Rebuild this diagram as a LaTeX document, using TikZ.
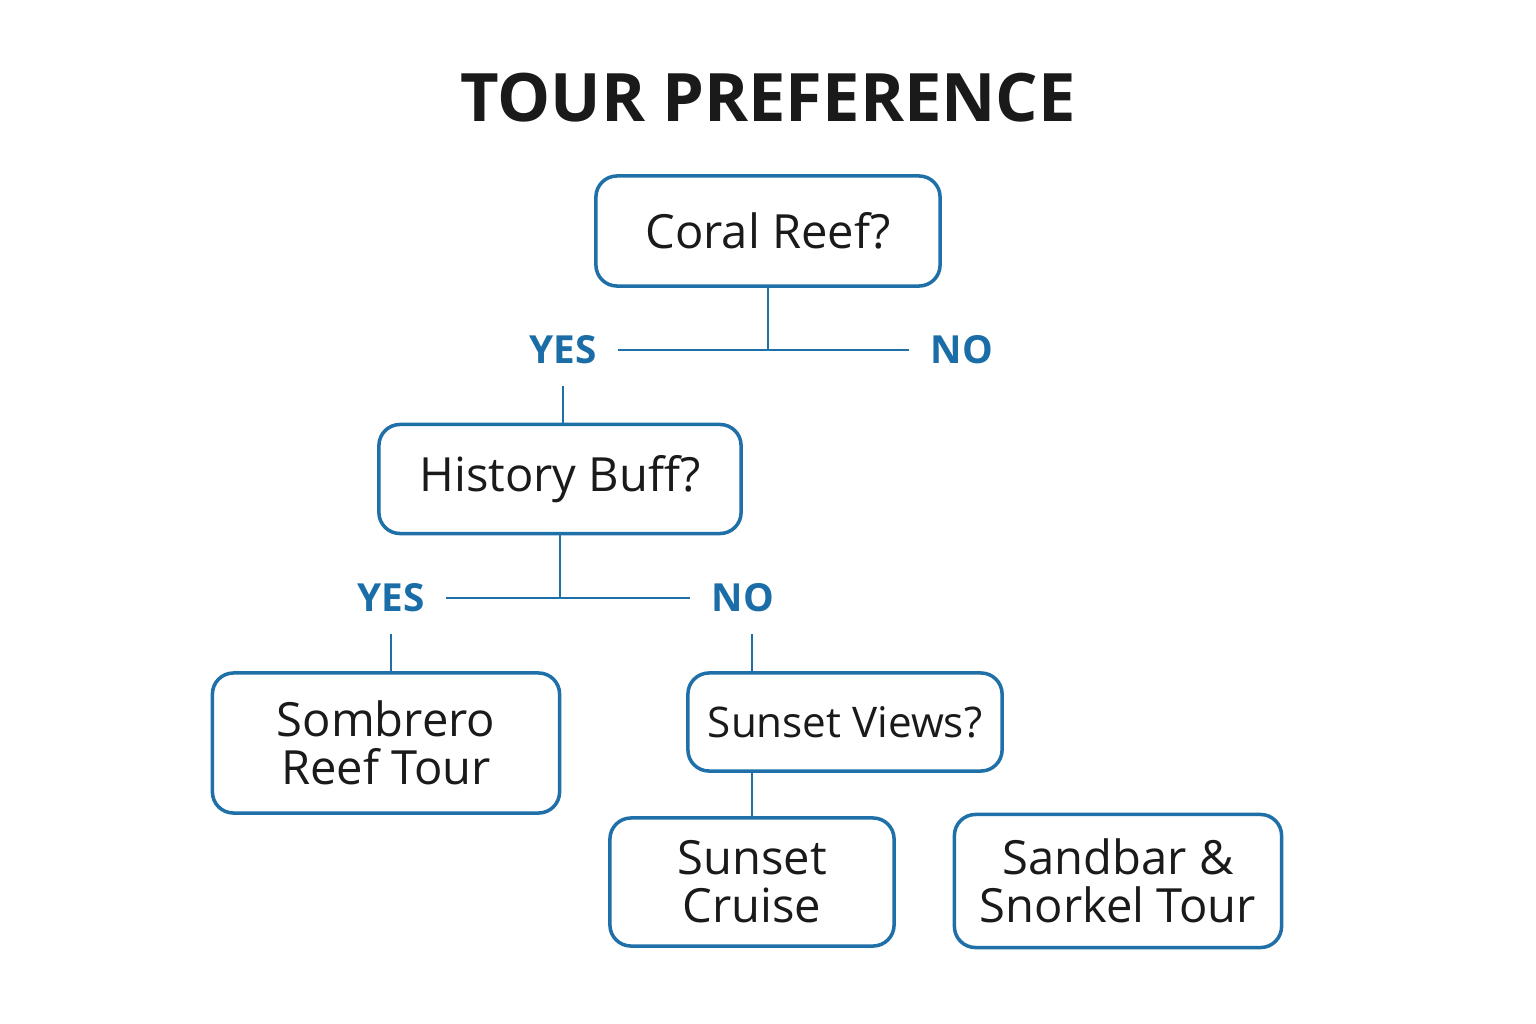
\documentclass[tikz,border=0pt]{standalone}
\usepackage{fontspec}
\setmainfont{Open Sans}
\usetikzlibrary{positioning}
\definecolor{treeblue}{HTML}{1F6FA8}
\definecolor{labelblue}{HTML}{1A6DA6}
\definecolor{inkdark}{HTML}{1A1A1A}
\begin{document}
\begin{tikzpicture}[x=0.01cm,y=-0.01cm]
    \tikzstyle{box}=[draw=treeblue,line width=1pt,rounded corners=6pt,text=inkdark,align=center,font=\fontsize{13.4}{13.7}\selectfont,inner sep=0pt]
    \tikzstyle{answer}=[text=labelblue,font=\fontsize{11}{13}\selectfont\bfseries,inner sep=6pt]
    \tikzstyle{link}=[draw=treeblue,line width=0.8pt]
    \useasboundingbox[fill=white] (0,0) rectangle (1536,1024);

    % Title
    \node[text=inkdark,font=\fontsize{19}{22}\selectfont\bfseries] (title) at (768,98) {TOUR PREFERENCE};

    % Question and tour boxes
    \node[box,minimum width=3.44cm,minimum height=1.10cm] (coral) at (768,231) {Coral Reef?};
    \node[box,minimum width=3.62cm,minimum height=1.09cm] (hist) at (560,479) {History Buff?};
    \node[box,minimum width=3.47cm,minimum height=1.40cm] (sombrero) at (386,743) {Sombrero\\Reef Tour};
    \node[box,minimum width=3.14cm,minimum height=0.98cm,font=\fontsize{12}{14}\selectfont] (views) at (845,722) {Sunset Views?};
    \node[box,minimum width=2.84cm,minimum height=1.28cm] (cruise) at (752,882) {Sunset\\Cruise};
    \node[box,minimum width=3.27cm,minimum height=1.33cm] (sandbar) at (1118,881) {Sandbar \&\\Snorkel Tour};

    % Answers
    \node[answer] (yes1) at (563,350) {YES};
    \node[answer] (no1) at (962,350) {NO};
    \node[answer] (yes2) at (391,598) {YES};
    \node[answer] (no2) at (743,598) {NO};

    % Branches
    \path[link] (yes1.east) -- (no1.west);
    \path[link] (coral.south) -- (coral.south |- yes1.east);
    \path[link] (yes1.south) -- (yes1.south |- hist.north);
    \path[link] (yes2.east) -- (no2.west);
    \path[link] (hist.south) -- (hist.south |- yes2.east);
    \path[link] (yes2.south) -- (yes2.south |- sombrero.north);
    \path[link] ([xshift=0.09cm]no2.south) -- ([xshift=0.09cm]no2.south |- views.north);
    \path[link] (cruise.north |- views.south) -- (cruise.north);
\end{tikzpicture}
\end{document}
